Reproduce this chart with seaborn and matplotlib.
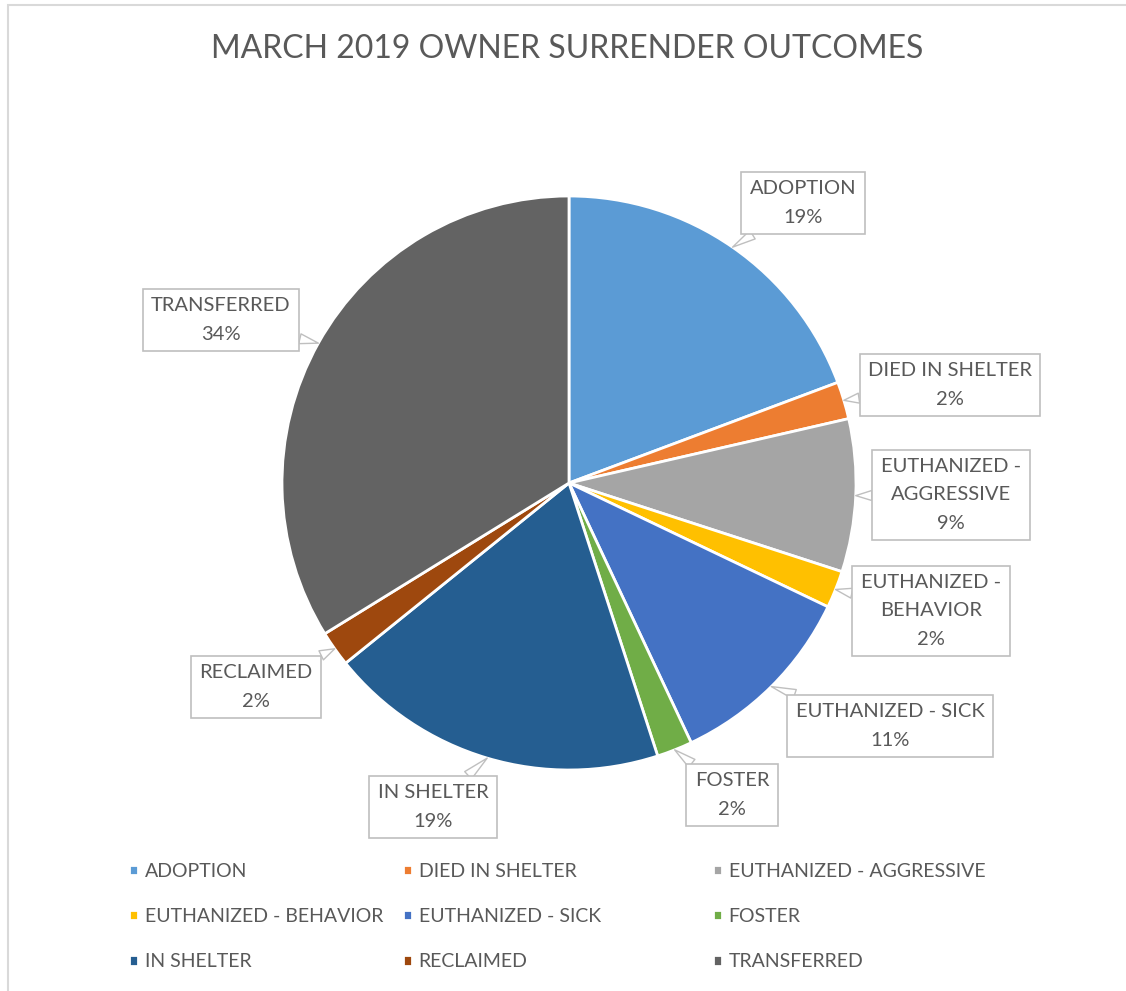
import matplotlib
matplotlib.use("Agg")
import numpy as np
import seaborn as sns
import matplotlib.pyplot as plt
from matplotlib.patches import Rectangle

sns.set_style("white")
plt.rcParams["font.family"] = ["Lato", "DejaVu Sans"]

title = "MARCH 2019 OWNER SURRENDER OUTCOMES"
categories = ["ADOPTION", "DIED IN SHELTER", "EUTHANIZED - AGGRESSIVE",
              "EUTHANIZED - BEHAVIOR", "EUTHANIZED - SICK", "FOSTER",
              "IN SHELTER", "RECLAIMED", "TRANSFERRED"]
label_names = ["ADOPTION", "DIED IN SHELTER", "EUTHANIZED -\nAGGRESSIVE",
               "EUTHANIZED -\nBEHAVIOR", "EUTHANIZED - SICK", "FOSTER",
               "IN SHELTER", "RECLAIMED", "TRANSFERRED"]
shares = [19.3, 2.1, 8.6, 2.1, 10.9, 2.0, 19.2, 2.0, 33.8]
colors = ["#5B9BD5", "#ED7D31", "#A5A5A5", "#FFC000", "#4472C4",
          "#70AD47", "#255E91", "#9E480E", "#636363"]

# callout box centres, image pixels (from top-left)
label_xy = [(803, 203), (950, 385), (951, 495), (931, 611), (890, 726),
            (732, 795), (433, 807), (256, 687), (221, 320)]

W, H, DPI = 1126, 991, 100
fig = plt.figure(figsize=(W / DPI, H / DPI), dpi=DPI)
palette = sns.color_palette(colors)

# chart area border (cropped on right and bottom)
fig.patches.append(Rectangle((8 / W, -0.02), 1.1, 1 - 5 / H + 0.02,
                             transform=fig.transFigure, fill=False,
                             edgecolor="#D9D9D9", linewidth=1.5))

cx, cy, r = 569, 483, 287
ax = fig.add_axes([(cx - r) / W, (H - cy - r) / H, 2 * r / W, 2 * r / H])
wedges, _ = ax.pie(shares, colors=palette, startangle=90, counterclock=False,
                   radius=1, wedgeprops=dict(edgecolor="white", linewidth=2))
ax.set_xlim(-1, 1)
ax.set_ylim(-1, 1)
ax.set_aspect("equal")
ax.axis("off")

total = sum(shares)
text_color = "#595959"
for w, name, v, (px, py) in zip(wedges, label_names, shares, label_xy):
    mid = np.deg2rad((w.theta1 + w.theta2) / 2)
    tip = (np.cos(mid), np.sin(mid))
    ax.annotate(f"{name}\n{round(v / total * 100)}%", xy=tip,
                xytext=(px, H - py), textcoords="figure pixels",
                ha="center", va="center", fontsize=14.5, color=text_color,
                linespacing=1.8, annotation_clip=False,
                bbox=dict(boxstyle="square,pad=0.42", fc="white",
                          ec="#BFBFBF", lw=1.2),
                arrowprops=dict(arrowstyle="wedge,tail_width=0.5",
                                fc="white", ec="#BFBFBF", lw=1.0,
                                shrinkA=0, shrinkB=0))

fig.text(567.5 / W, 1 - 49 / H, title, ha="center", va="center",
         fontsize=23, color=text_color)

# legend: three columns placed like the Excel layout
col_x = [129, 403, 713]
for j, x in enumerate(col_x):
    idx = [j, j + 3, j + 6]
    fig.legend([wedges[i] for i in idx], [categories[i] for i in idx],
               loc="upper left", bbox_to_anchor=(x / W, 1 - 863 / H),
               frameon=False, fontsize=14, labelcolor=text_color,
               handlelength=0.45, handleheight=0.45, handletextpad=0.35,
               labelspacing=1.45, borderpad=0, borderaxespad=0)

fig.savefig("out.png", dpi=DPI)
